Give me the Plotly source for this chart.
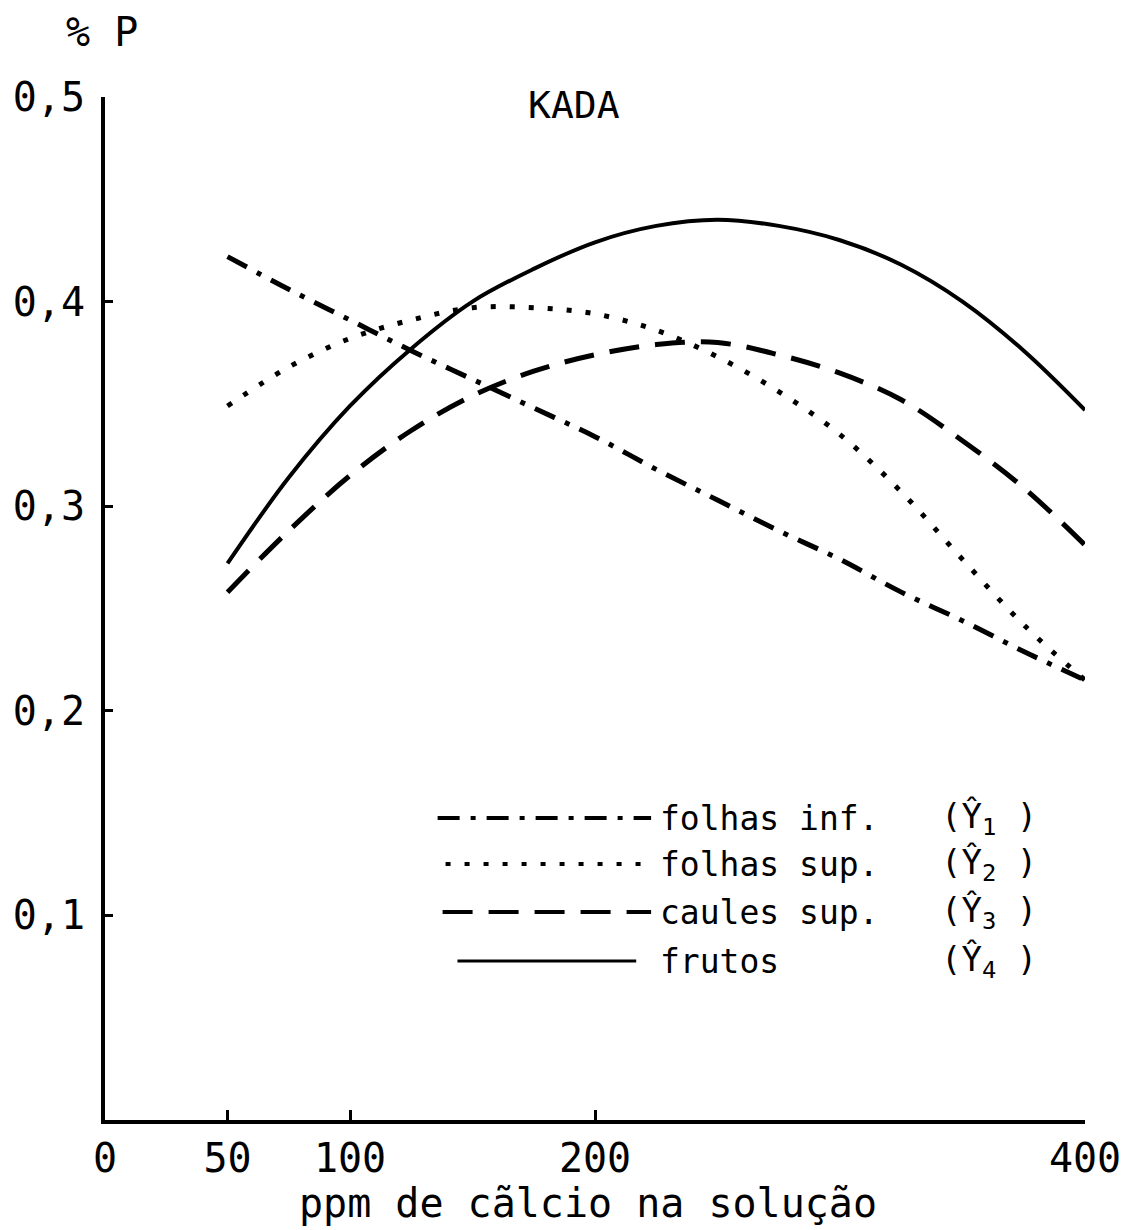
import plotly.graph_objects as go

# ---- data ----
calcio = [50, 75, 100, 125, 150, 175, 200, 225, 250, 275, 300, 325, 350, 375, 400]
folhas_inf = [0.422, 0.406, 0.391, 0.376, 0.362, 0.348, 0.334, 0.318, 0.303, 0.288, 0.274, 0.258, 0.244, 0.229, 0.215]
folhas_sup = [0.349, 0.368, 0.382, 0.391, 0.397, 0.397, 0.394, 0.386, 0.373, 0.356, 0.335, 0.307, 0.274, 0.242, 0.215]
caules_sup = [0.258, 0.288, 0.315, 0.337, 0.354, 0.366, 0.374, 0.379, 0.380, 0.374, 0.365, 0.352, 0.332, 0.309, 0.281]
frutos = [0.272, 0.314, 0.349, 0.377, 0.400, 0.416, 0.429, 0.437, 0.440, 0.437, 0.430, 0.418, 0.400, 0.376, 0.347]

x_ticks = [0, 50, 100, 200, 400]
y_ticks = [0.1, 0.2, 0.3, 0.4, 0.5]
y_ticktext = ["0,1", "0,2", "0,3", "0,4", "0,5"]

series_names = ["folhas inf.", "folhas sup.", "caules sup.", "frutos"]
series_tags = ["(Ŷ<sub>1</sub> )", "(Ŷ<sub>2</sub> )", "(Ŷ<sub>3</sub> )", "(Ŷ<sub>4</sub> )"]

FONT = "DejaVu Sans Mono"
W, H = 1133, 1230
L, R, T, B = 105, 41, 97, 110
PW, PH = W - L - R, H - T - B


def xp(p):
    return (p - L) / PW


def yp(p):
    return (H - B - p) / PH


styles = [
    dict(dash="22px,11px,5px,11px", width=5),
    dict(dash="5px,14px", width=5),
    dict(dash="30px,16px", width=5),
    dict(dash="solid", width=4),
]
series = [folhas_inf, folhas_sup, caules_sup, frutos]

fig = go.Figure()
for name, vals, st in zip(series_names, series, styles):
    fig.add_trace(go.Scatter(
        x=calcio, y=vals, mode="lines", name=name,
        line=dict(color="black", width=st["width"], dash=st["dash"], shape="spline", smoothing=1.0),
        showlegend=False,
    ))

# manual legend (long line samples like the original)
leg_rows = [818, 864, 912, 961]
leg_x0 = [440, 448, 445, 460]
leg_x1 = [655, 655, 655, 640]
shapes = []
annotations = []
for i, (name, tag, st) in enumerate(zip(series_names, series_tags, styles)):
    y = yp(leg_rows[i])
    shapes.append(dict(type="line", xref="paper", yref="paper",
                       x0=xp(leg_x0[i]), x1=xp(leg_x1[i]), y0=y, y1=y,
                       line=dict(color="black", width=st["width"] - 1, dash=st["dash"])))
    annotations.append(dict(text=name, xref="paper", yref="paper", x=xp(662), y=y,
                            xanchor="left", yanchor="middle", showarrow=False,
                            font=dict(family=FONT, size=33, color="black")))
    annotations.append(dict(text=tag, xref="paper", yref="paper", x=xp(945), y=y,
                            xanchor="left", yanchor="middle", showarrow=False,
                            font=dict(family=FONT, size=34, color="black")))

annotations.append(dict(text="% P", xref="paper", yref="paper", x=xp(102), y=yp(32),
                        xanchor="center", yanchor="middle", showarrow=False,
                        font=dict(family=FONT, size=40, color="black")))
annotations.append(dict(text="KADA", xref="paper", yref="paper", x=xp(577), y=yp(105),
                        xanchor="center", yanchor="middle", showarrow=False,
                        font=dict(family=FONT, size=38, color="black")))
annotations.append(dict(text="ppm de cãlcio na solução", xref="paper", yref="paper",
                        x=xp(591), y=yp(1203), xanchor="center", yanchor="middle",
                        showarrow=False, font=dict(family=FONT, size=40, color="black")))

fig.update_layout(
    width=W, height=H,
    margin=dict(l=L, r=R, t=T, b=B),
    paper_bgcolor="white", plot_bgcolor="white",
    shapes=shapes, annotations=annotations,
    xaxis=dict(range=[0, 400], tickvals=x_ticks, ticks="inside", ticklen=10, tickwidth=3,
               tickcolor="black", showline=True, linewidth=4, linecolor="black",
               showgrid=False, zeroline=False,
               tickfont=dict(family=FONT, size=40, color="black")),
    yaxis=dict(range=[0, 0.5], tickvals=y_ticks, ticktext=y_ticktext, ticks="inside",
               ticklen=8, tickwidth=3, tickcolor="black", showline=True, linewidth=4,
               linecolor="black", showgrid=False, zeroline=False, ticklabelstandoff=8,
               tickfont=dict(family=FONT, size=40, color="black")),
)

fig.write_html("out.html")
